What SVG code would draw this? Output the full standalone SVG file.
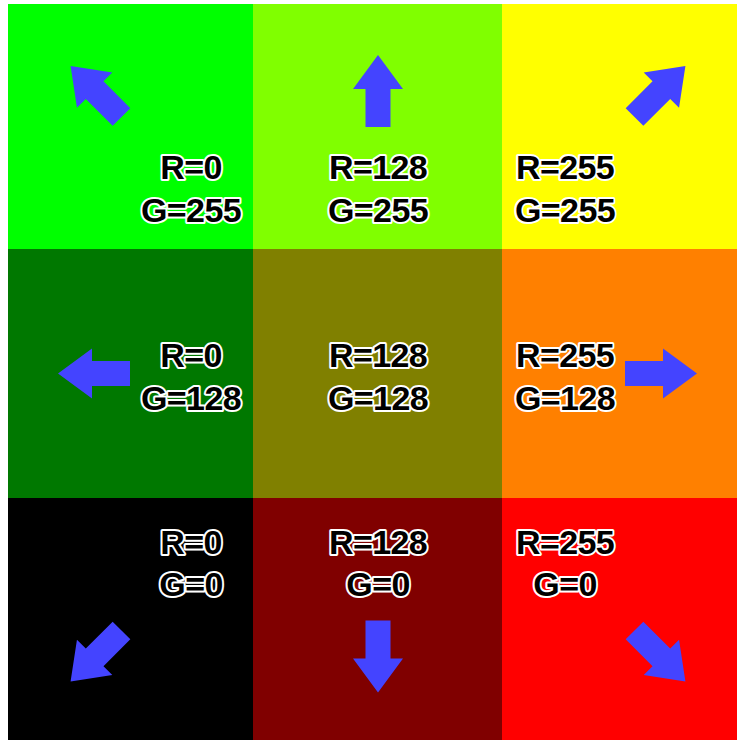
<svg xmlns="http://www.w3.org/2000/svg" width="737" height="740" viewBox="0 0 737 740">
<defs>
<style>
.lbl{font-family:"Liberation Sans",Arial,sans-serif;font-weight:bold;font-size:34px;fill:#000;stroke:#fff;stroke-width:4;paint-order:stroke;stroke-linejoin:round;text-anchor:middle;letter-spacing:-0.6px}
.arr{fill:#4444FF}
</style>
<path id="arrow" d="M0,-12.5 H38 V-25 L72,0 L38,25 V12.5 H0 Z"/>
</defs>
<rect width="737" height="740" fill="#fff"/>
<g id="cell-r0-g255"><rect x="8" y="4" width="245" height="245" fill="#00FF00"/><text class="lbl" x="191" y="179">R=0</text><text class="lbl" x="191" y="222">G=255</text></g>
<g id="cell-r128-g255"><rect x="253" y="4" width="249" height="245" fill="#80FF00"/><text class="lbl" x="378" y="179">R=128</text><text class="lbl" x="378" y="222">G=255</text></g>
<g id="cell-r255-g255"><rect x="502" y="4" width="235" height="245" fill="#FFFF00"/><text class="lbl" x="565" y="179">R=255</text><text class="lbl" x="565" y="222">G=255</text></g>
<g id="cell-r0-g128"><rect x="8" y="249" width="245" height="249" fill="#007800"/><text class="lbl" x="191" y="367">R=0</text><text class="lbl" x="191" y="410">G=128</text></g>
<g id="cell-r128-g128"><rect x="253" y="249" width="249" height="249" fill="#808000"/><text class="lbl" x="378" y="367">R=128</text><text class="lbl" x="378" y="410">G=128</text></g>
<g id="cell-r255-g128"><rect x="502" y="249" width="235" height="249" fill="#FF8000"/><text class="lbl" x="565" y="367">R=255</text><text class="lbl" x="565" y="410">G=128</text></g>
<g id="cell-r0-g0"><rect x="8" y="498" width="245" height="242" fill="#000000"/><text class="lbl" x="191" y="554">R=0</text><text class="lbl" x="191" y="596">G=0</text></g>
<g id="cell-r128-g0"><rect x="253" y="498" width="249" height="242" fill="#800000"/><text class="lbl" x="378" y="554">R=128</text><text class="lbl" x="378" y="596">G=0</text></g>
<g id="cell-r255-g0"><rect x="502" y="498" width="235" height="242" fill="#FF0000"/><text class="lbl" x="565" y="554">R=255</text><text class="lbl" x="565" y="596">G=0</text></g>
<g id="arrows" class="arr">
<use href="#arrow" transform="translate(378,127) rotate(-90)"/>
<use href="#arrow" transform="translate(625,373.5)"/>
<use href="#arrow" transform="translate(130,373.5) rotate(180)"/>
<use href="#arrow" transform="translate(378,620.5) rotate(90)"/>
<use href="#arrow" transform="translate(121.5,117) rotate(-135)"/>
<use href="#arrow" transform="translate(634.5,117) rotate(-45)"/>
<use href="#arrow" transform="translate(121.5,630.5) rotate(135)"/>
<use href="#arrow" transform="translate(634.5,630.5) rotate(45)"/>
</g>
</svg>
